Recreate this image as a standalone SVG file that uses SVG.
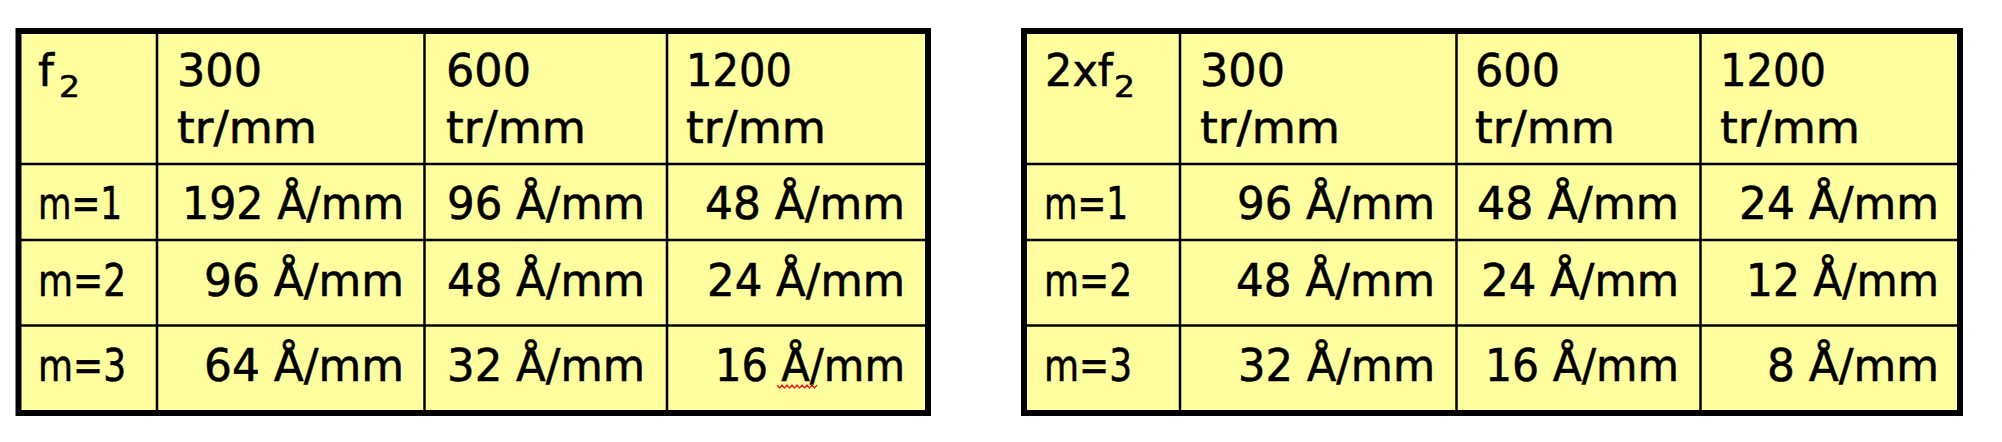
<svg xmlns="http://www.w3.org/2000/svg" width="2002" height="442" viewBox="0 0 2002 442">
<style>
.bg{fill:#FFFFA0}
.outer{fill:none;stroke:#000;stroke-width:6}
.grid{stroke:#000;stroke-width:2.5;fill:none}
text{font-family:"DejaVu Sans","Liberation Sans",sans-serif;font-size:45px;fill:#000;stroke:#000;stroke-width:0.6}
.sub{font-size:30px}
.v{text-anchor:end}
</style>
<rect x="0" y="0" width="2002" height="442" fill="#fff"/>

<g id="table1">
  <rect class="bg" x="18.5" y="31" width="909.5" height="382"/>
  <g id="table1-grid" class="grid">
    <line x1="157" y1="31" x2="157" y2="413"/>
    <line x1="424.5" y1="31" x2="424.5" y2="413"/>
    <line x1="667" y1="31" x2="667" y2="413"/>
    <line x1="18.5" y1="164" x2="928" y2="164"/>
    <line x1="18.5" y1="240" x2="928" y2="240"/>
    <line x1="18.5" y1="325.5" x2="928" y2="325.5"/>
  </g>
  <rect class="outer" x="18.5" y="31" width="909.5" height="382"/>
  <g id="table1-header">
    <text x="38" y="86">f</text><text class="sub" x="59" y="97" textLength="21" lengthAdjust="spacingAndGlyphs">2</text>
    <text x="177" y="86" textLength="85" lengthAdjust="spacingAndGlyphs">300</text>
    <text x="177" y="143" textLength="140" lengthAdjust="spacingAndGlyphs">tr/mm</text>
    <text x="446" y="86" textLength="85" lengthAdjust="spacingAndGlyphs">600</text>
    <text x="446" y="143" textLength="140" lengthAdjust="spacingAndGlyphs">tr/mm</text>
    <text x="686" y="86" textLength="106" lengthAdjust="spacingAndGlyphs">1200</text>
    <text x="686" y="143" textLength="140" lengthAdjust="spacingAndGlyphs">tr/mm</text>
  </g>
  <g id="table1-rows">
    <text x="38" y="219" textLength="84" lengthAdjust="spacingAndGlyphs">m=1</text>
    <text x="38" y="296" textLength="88" lengthAdjust="spacingAndGlyphs">m=2</text>
    <text x="38" y="381" textLength="88" lengthAdjust="spacingAndGlyphs">m=3</text>
  </g>
  <g id="table1-values">
    <text class="v" x="404" y="219" textLength="222" lengthAdjust="spacingAndGlyphs">192 Å/mm</text>
    <text class="v" x="404" y="296" textLength="200" lengthAdjust="spacingAndGlyphs">96 Å/mm</text>
    <text class="v" x="404" y="381" textLength="200" lengthAdjust="spacingAndGlyphs">64 Å/mm</text>
    <text class="v" x="645" y="219" textLength="198" lengthAdjust="spacingAndGlyphs">96 Å/mm</text>
    <text class="v" x="645" y="296" textLength="198" lengthAdjust="spacingAndGlyphs">48 Å/mm</text>
    <text class="v" x="645" y="381" textLength="198" lengthAdjust="spacingAndGlyphs">32 Å/mm</text>
    <text class="v" x="905" y="219" textLength="200" lengthAdjust="spacingAndGlyphs">48 Å/mm</text>
    <text class="v" x="905" y="296" textLength="198" lengthAdjust="spacingAndGlyphs">24 Å/mm</text>
    <text class="v" x="905" y="381" textLength="190" lengthAdjust="spacingAndGlyphs">16 Å/mm</text>
  </g>
  <polyline id="spell-squiggle" points="777,385 779.5,388 782,385 784.5,388 787,385 789.5,388 792,385 794.5,388 797,385 799.5,388 802,385 804.5,388 807,385 809.5,388 812,385 814.5,388 817,385" fill="none" stroke="#e02020" stroke-width="1.3"/>
</g>

<g id="table2">
  <rect class="bg" x="1024" y="31" width="936" height="382"/>
  <g id="table2-grid" class="grid">
    <line x1="1180" y1="31" x2="1180" y2="413"/>
    <line x1="1456.5" y1="31" x2="1456.5" y2="413"/>
    <line x1="1700.5" y1="31" x2="1700.5" y2="413"/>
    <line x1="1024" y1="164" x2="1960" y2="164"/>
    <line x1="1024" y1="240" x2="1960" y2="240"/>
    <line x1="1024" y1="325.5" x2="1960" y2="325.5"/>
  </g>
  <rect class="outer" x="1024" y="31" width="936" height="382"/>
  <g id="table2-header">
    <text x="1045" y="86" textLength="68" lengthAdjust="spacingAndGlyphs">2xf</text><text class="sub" x="1114" y="97" textLength="21" lengthAdjust="spacingAndGlyphs">2</text>
    <text x="1200" y="86" textLength="85" lengthAdjust="spacingAndGlyphs">300</text>
    <text x="1200" y="143" textLength="140" lengthAdjust="spacingAndGlyphs">tr/mm</text>
    <text x="1475" y="86" textLength="85" lengthAdjust="spacingAndGlyphs">600</text>
    <text x="1475" y="143" textLength="140" lengthAdjust="spacingAndGlyphs">tr/mm</text>
    <text x="1720" y="86" textLength="106" lengthAdjust="spacingAndGlyphs">1200</text>
    <text x="1720" y="143" textLength="140" lengthAdjust="spacingAndGlyphs">tr/mm</text>
  </g>
  <g id="table2-rows">
    <text x="1044" y="219" textLength="84" lengthAdjust="spacingAndGlyphs">m=1</text>
    <text x="1044" y="296" textLength="88" lengthAdjust="spacingAndGlyphs">m=2</text>
    <text x="1044" y="381" textLength="88" lengthAdjust="spacingAndGlyphs">m=3</text>
  </g>
  <g id="table2-values">
    <text class="v" x="1435" y="219" textLength="198" lengthAdjust="spacingAndGlyphs">96 Å/mm</text>
    <text class="v" x="1435" y="296" textLength="199" lengthAdjust="spacingAndGlyphs">48 Å/mm</text>
    <text class="v" x="1435" y="381" textLength="197" lengthAdjust="spacingAndGlyphs">32 Å/mm</text>
    <text class="v" x="1679" y="219" textLength="202" lengthAdjust="spacingAndGlyphs">48 Å/mm</text>
    <text class="v" x="1679" y="296" textLength="198" lengthAdjust="spacingAndGlyphs">24 Å/mm</text>
    <text class="v" x="1679" y="381" textLength="194" lengthAdjust="spacingAndGlyphs">16 Å/mm</text>
    <text class="v" x="1939" y="219" textLength="200" lengthAdjust="spacingAndGlyphs">24 Å/mm</text>
    <text class="v" x="1939" y="296" textLength="193" lengthAdjust="spacingAndGlyphs">12 Å/mm</text>
    <text class="v" x="1939" y="381" textLength="172" lengthAdjust="spacingAndGlyphs">8 Å/mm</text>
  </g>
</g>
</svg>
